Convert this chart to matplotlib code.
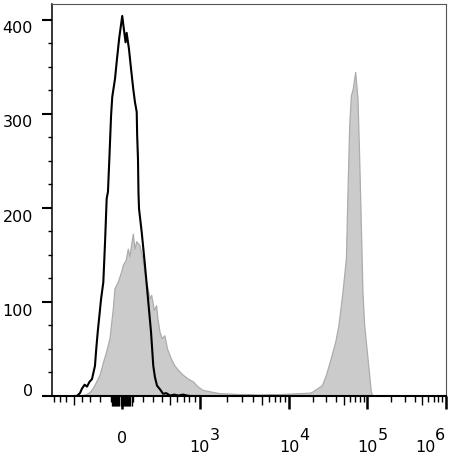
import numpy as np
import matplotlib
matplotlib.use("Agg")
import matplotlib.pyplot as plt
import matplotlib.transforms as mtransforms

# --- data (fluorescence value, event count) ---
black_x = [-500, -459, -420, -395, -365, -338, -311, -284, -253, -240, -225, -207,
           -192, -170, -153, -138, -126, -113, -97, -86, -61, -43, -22, 5, 25, 35,
           45, 66, 85, 106, 122, 138, 142, 150, 155, 160, 186, 218, 249, 280, 304,
           322, 345, 380, 415, 455, 503, 560, 620, 695, 750, 820, 1000]
black_y = [0, 0, 3, 8, 12, 10, 15, 18, 32, 50, 68, 87,
           103, 121, 165, 210, 217, 252, 298, 318, 337, 358, 381, 404, 385, 376,
           386, 369, 348, 326, 312, 302, 278, 252, 215, 199, 174, 139, 103, 68, 32,
           20, 11, 7, 2.4, 3, 0.5, 1.5, 0.5, 1.5, 0.5, 0, 0]

gray_x = [-460, -384, -341, -300, -270, -235, -202, -170, -138, -107, -76, -61,
          -31, 0, 15, 40, 60, 75, 90, 106, 122, 138, 169, 200, 218, 249, 270, 287,
          315, 341, 355, 379, 405, 438, 470, 503, 535, 570, 625, 698, 780, 872, 960,
          1090, 1300, 1675, 2170, 2800, 3630, 4700, 6080, 8000, 10200, 13700, 18400,
          20000, 26700, 30000, 34700, 39400, 43400, 48800, 54000, 56600, 59500,
          62500, 66000, 70900, 75900, 79800, 83800, 87900, 92400, 101800, 112500,
          117000]
gray_y = [0, 0.5, 1.5, 4, 8, 15, 22, 35, 47, 61, 93, 114,
          121, 132, 139, 144, 156, 148, 160, 172, 156, 164, 160, 144, 130, 114, 103, 107,
          91, 96, 82, 68, 61, 64, 50, 43, 37, 32, 27, 22, 18, 15, 10,
          6, 4.5, 2.5, 2, 1.5, 1.5, 1, 1.5, 1.5, 2, 2.5, 3,
          4, 11, 22, 40, 57, 75, 110, 146, 217, 287,
          319, 326, 344, 316, 252, 181, 110, 75, 40, 4,
          0]

y_major = [0, 100, 200, 300, 400]
x_major = [0, 1e3, 1e4, 1e5, 1e6]
x_exps = [None, "3", "4", "5", "6"]

# --- biexponential-like axis ---
C = 475.0
K = 52.4
D3 = 89.3
D = 78.35
P3 = K * np.arcsinh(1000 / C)
P4 = P3 + D3


def forward(v):
    v = np.asarray(v, dtype=float)
    a = np.abs(v)
    with np.errstate(all="ignore"):
        p = np.where(a <= 1e3, K * np.arcsinh(a / C),
                     np.where(a <= 1e4, P3 + D3 * np.log10(a / 1e3),
                              P4 + D * np.log10(a / 1e4)))
    return np.sign(v) * p


def inverse(p):
    p = np.asarray(p, dtype=float)
    a = np.abs(p)
    with np.errstate(all="ignore"):
        v = np.where(a <= P3, C * np.sinh(np.minimum(a, P3) / K),
                     np.where(a <= P4, 1e3 * 10 ** ((a - P3) / D3),
                              1e4 * 10 ** ((a - P4) / D)))
    return np.sign(p) * v


plt.rcParams["font.family"] = "DejaVu Sans"
fig = plt.figure(figsize=(4.52, 4.56), dpi=100)
ax = fig.add_axes([52.3 / 452, 59 / 456, 393.4 / 452, 392 / 456])
ax.set_xscale("function", functions=(forward, inverse))

ax.fill_between(gray_x, gray_y, 0, facecolor="#cbcbcb", edgecolor="none", zorder=1)
ax.plot(gray_x, gray_y, color="#acacac", lw=0.9, zorder=2)
ax.plot(black_x, black_y, color="black", lw=1.5, zorder=3)

ax.set_xlim(-830, 1e6)
ax.set_ylim(0, 416.7)

# spines
for s in ["top", "right"]:
    ax.spines[s].set_linewidth(0.8)
    ax.spines[s].set_color("#555555")
ax.spines["left"].set_linewidth(1.1)
ax.spines["bottom"].set_linewidth(1.5)

# x ticks
cluster = [v for v in range(-90, 100, 10) if v != 0]
hundreds = [v for v in range(-800, 1000, 100) if v != 0]
decade_minor = [m * 10 ** e for e in (3, 4, 5) for m in range(2, 10)]
x_minor = sorted(cluster + hundreds + decade_minor)
ax.set_xticks(x_major)
ax.set_xticklabels([""] * len(x_major))
ax.set_xticks(x_minor, minor=True)
ax.tick_params(axis="x", which="major", length=9.4, width=1.8, color="black")
ax.tick_params(axis="x", which="minor", length=4, width=1.0, color="black")
for t, v in zip(ax.xaxis.get_minor_ticks(len(x_minor)), x_minor):
    if abs(v) < 100:
        t.tick1line.set_markersize(7)
    elif v in (-500, 500, 5e3, 5e4, 5e5):
        t.tick1line.set_markersize(6.5)

# y ticks
ax.set_yticks(y_major)
ax.set_yticks(np.arange(0, 425, 25), minor=True)
ax.tick_params(axis="y", which="major", length=7.2, width=1.5, pad=6.7,
               labelsize=11.5, color="black")
ax.tick_params(axis="y", which="minor", length=3, width=1.0, color="black")
for t, v in zip(ax.yaxis.get_major_ticks(), y_major):
    dy = 6.6 if v == 0 else -6.7
    off = mtransforms.ScaledTranslation(0, dy / 100, fig.dpi_scale_trans)
    t.label1.set_transform(t.label1.get_transform() + off)

# x labels: "0" and 10 with exponent
for v, e in zip(x_major, x_exps):
    if e is None:
        ax.annotate("0", xy=(v, 0), xycoords=("data", "axes fraction"),
                    xytext=(0, -46), textcoords="offset pixels",
                    ha="center", va="baseline", fontsize=11.5)
        continue
    shift = -20.5 if e == "6" else 0
    ax.annotate("10", xy=(v, 0), xycoords=("data", "axes fraction"),
                xytext=(shift, -54.7), textcoords="offset pixels",
                ha="center", va="baseline", fontsize=11.5, annotation_clip=False)
    ax.annotate(e, xy=(v, 0), xycoords=("data", "axes fraction"),
                xytext=(shift + 10, -43), textcoords="offset pixels",
                ha="left", va="baseline", fontsize=11.5, annotation_clip=False)

fig.savefig("out.png", dpi=100)
